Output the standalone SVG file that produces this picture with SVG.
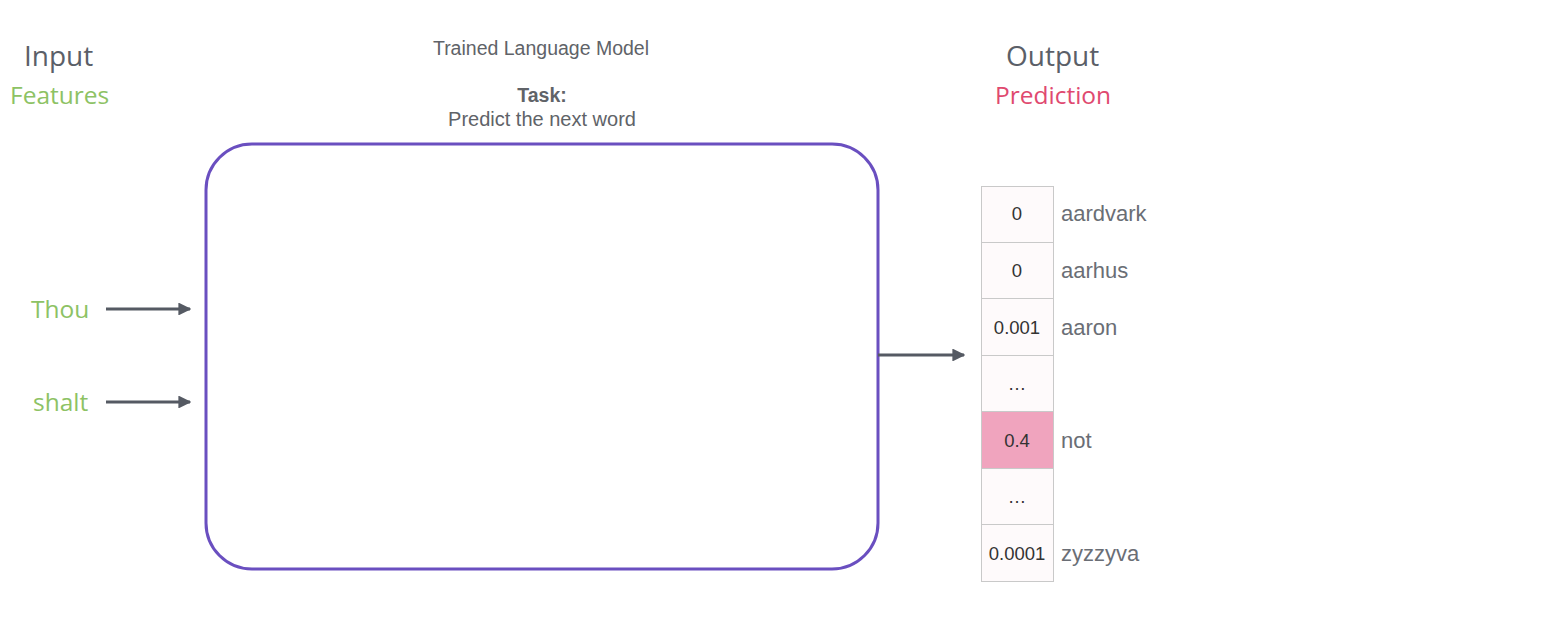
<svg xmlns="http://www.w3.org/2000/svg" width="1543" height="624" viewBox="0 0 1543 624">
<style>
.h{font-family:"Open Sans","Noto Sans",sans-serif;font-size:28px;fill:#5b5f68}
.feat{font-family:"Open Sans","Noto Sans",sans-serif;font-size:24.5px;fill:#8dc264}
.pred{font-family:"Open Sans","Noto Sans",sans-serif;font-size:24.5px;fill:#e0496f}
.t{font-family:"Liberation Sans",Arial,sans-serif;fill:#606368}
.cell{stroke:#c9c9c9;stroke-width:1}
.val{font-family:"Liberation Sans",Arial,sans-serif;font-size:18.5px;fill:#333;text-anchor:middle}
.lbl{font-family:"Liberation Sans",Arial,sans-serif;font-size:22px;fill:#6a6e75}
.arr{stroke:#555a63;stroke-width:3;fill:none;marker-end:url(#ah)}
</style>
<defs>
<marker id="ah" viewBox="0 0 10 10" refX="9" refY="5" markerWidth="4.3" markerHeight="4.3" orient="auto" markerUnits="strokeWidth">
<path d="M0,0 L10,5 L0,10 z" fill="#555a63"/>
</marker>
</defs>
<rect width="1543" height="624" fill="#fff"/>
<g id="input-header">
<text class="h" x="24" y="66">Input</text>
<text class="feat" x="10" y="104">Features</text>
</g>
<g id="output-header">
<text class="h" x="1006" y="66">Output</text>
<text class="pred" x="995" y="104">Prediction</text>
</g>
<g id="model">
<text class="t" x="541" y="55" font-size="19.5" text-anchor="middle">Trained Language Model</text>
<text class="t" x="542" y="102" font-size="19.5" font-weight="bold" text-anchor="middle" fill="#555a63">Task:</text>
<text class="t" x="542" y="126" font-size="20" text-anchor="middle">Predict the next word</text>
<rect x="206" y="144" width="672" height="425" rx="46" ry="46" fill="none" stroke="#6a4fc0" stroke-width="3"/>
</g>
<g id="in-thou"><text class="feat" x="31" y="318">Thou</text></g>
<g id="in-shalt"><text class="feat" x="33" y="411">shalt</text></g>
<g id="connectors">
<line class="arr" x1="106" y1="309" x2="190" y2="309"/>
<line class="arr" x1="106" y1="402" x2="190" y2="402"/>
<line class="arr" x1="878" y1="355" x2="964" y2="355"/>
</g>
<g id="output-vector">
<rect class="cell" x="981.5" y="186.5" width="72" height="56" fill="#fefafb"/>
<rect class="cell" x="981.5" y="242.5" width="72" height="56" fill="#fefafb"/>
<rect class="cell" x="981.5" y="298.5" width="72" height="57" fill="#fefafb"/>
<rect class="cell" x="981.5" y="355.5" width="72" height="56" fill="#fefafb"/>
<rect class="cell" x="981.5" y="411.5" width="72" height="57" fill="#f0a4be"/>
<rect class="cell" x="981.5" y="468.5" width="72" height="56" fill="#fefafb"/>
<rect class="cell" x="981.5" y="524.5" width="72" height="57" fill="#fefafb"/>
<text class="val" x="1017" y="220">0</text>
<text class="val" x="1017" y="277">0</text>
<text class="val" x="1017" y="334">0.001</text>
<text class="val" x="1017" y="390">…</text>
<text class="val" x="1017" y="447">0.4</text>
<text class="val" x="1017" y="503">…</text>
<text class="val" x="1017" y="560">0.0001</text>
<text class="lbl" x="1061" y="221">aardvark</text>
<text class="lbl" x="1061" y="278">aarhus</text>
<text class="lbl" x="1061" y="335">aaron</text>
<text class="lbl" x="1061" y="448">not</text>
<text class="lbl" x="1061" y="561">zyzzyva</text>
</g>
</svg>
